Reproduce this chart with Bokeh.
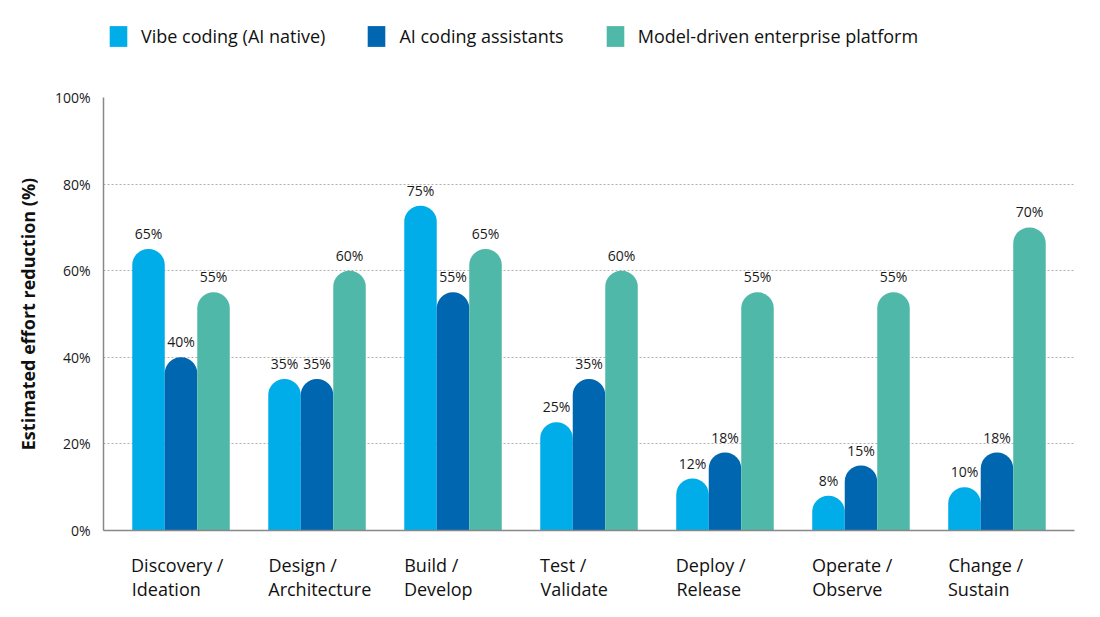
from bokeh.plotting import figure
from bokeh.layouts import column
from bokeh.models import ColumnDataSource, FixedTicker, Legend, LegendItem, Range1d, LinearAxis
from bokeh.core.properties import value
from bokeh.embed import file_html
from bokeh.resources import INLINE

categories = ["Discovery /\nIdeation", "Design /\nArchitecture", "Build /\nDevelop",
              "Test /\nValidate", "Deploy /\nRelease", "Operate /\nObserve", "Change /\nSustain"]
series_names = ["Vibe coding (AI native)", "AI coding assistants", "Model-driven enterprise platform"]
vibe = [65, 35, 75, 25, 12, 8, 10]
assistants = [40, 35, 55, 35, 18, 15, 18]
platform = [55, 60, 65, 60, 55, 55, 70]
y_ticks = [0, 20, 40, 60, 80, 100]
y_tick_labels = ["0%", "20%", "40%", "60%", "80%", "100%"]

colors = ["#00ADE8", "#0066B0", "#50B8A8"]
FONT = "Open Sans"
# approx. rendered widths (px) of the first and second line of each category label
line1_px = [90, 69, 54, 46, 69, 80, 75]
line2_px = [68, 103, 68, 68, 65, 70, 61]
px_per_unit = 136.0

p = figure(width=1090, height=540, output_backend="svg", toolbar_location=None,
           x_range=Range1d(-0.57, 6.57), y_range=Range1d(0, 100),
           min_border_left=103, min_border_right=16, min_border_top=27, min_border_bottom=80)
p.outline_line_color = None

bw = 0.239
offsets = [-bw, 0, bw]
sources = []
renderers = []
for k, vals in enumerate([vibe, assistants, platform]):
    xs = [i + offsets[k] for i in range(len(categories))]
    src = ColumnDataSource(dict(x=xs, top=vals, label=[f"{v}%" for v in vals]))
    sources.append(src)
    r = p.vbar(x="x", top="top", bottom=0, width=bw, source=src, fill_color=colors[k],
               line_color=None, border_radius=(16, 16, 0, 0))
    renderers.append(r)
    p.text(x="x", y="top", text="label", source=src, y_offset=-6, text_align="center",
           text_baseline="bottom", text_font=value(FONT), text_font_size="14px", text_color="#1a1a1a")

# grid & y axis
p.xgrid.visible = False
p.ygrid.ticker = FixedTicker(ticks=y_ticks)
p.ygrid.grid_line_color = "#b0b0b0"
p.ygrid.grid_line_dash = "2 2"
p.ygrid.grid_line_width = 1

p.yaxis.ticker = FixedTicker(ticks=y_ticks)
p.yaxis.major_label_overrides = {t: l for t, l in zip(y_ticks, y_tick_labels)}
p.yaxis.axis_label = "Estimated effort reduction (%)"
p.yaxis.axis_label_text_font = FONT
p.yaxis.axis_label_text_font_style = "bold"
p.yaxis.axis_label_text_font_size = "18px"
p.yaxis.axis_label_text_color = "#111111"
p.yaxis.axis_label_standoff = 12
p.yaxis.major_label_text_font = FONT
p.yaxis.major_label_text_font_size = "14px"
p.yaxis.major_label_text_color = "#1a1a1a"
p.yaxis.major_label_standoff = 7
p.yaxis.major_tick_line_color = None
p.yaxis.minor_tick_line_color = None
p.yaxis.axis_line_color = "#888888"
p.yaxis.axis_line_width = 1.5

# x axis: two label rows, each line starting at its group's left edge
lines1 = [c.split("\n")[0] for c in categories]
lines2 = [c.split("\n")[1] for c in categories]
group_left = [i - 1.5 * bw for i in range(len(categories))]
ticks1 = [g + (w / 2) / px_per_unit for g, w in zip(group_left, line1_px)]
ticks2 = [g + (w / 2) / px_per_unit + 1e-6 for g, w in zip(group_left, line2_px)]

xa = p.xaxis[0]
xa.ticker = FixedTicker(ticks=ticks1)
xa.major_label_overrides = {t: s for t, s in zip(ticks1, lines1)}
xa.axis_line_color = "#888888"
xa.axis_line_width = 1.5

xb = LinearAxis(ticker=FixedTicker(ticks=ticks2),
                major_label_overrides={t: s for t, s in zip(ticks2, lines2)},
                axis_line_color=None)
p.add_layout(xb, "below")

for ax, so in ((xa, 16), (xb, -9)):
    ax.major_label_text_font = FONT
    ax.major_label_text_font_size = "18px"
    ax.major_label_text_color = "#111111"
    ax.major_label_standoff = so
    ax.major_tick_line_color = None
    ax.minor_tick_line_color = None

# legend strip on top (renderers share the bar sources; zero-width bars outside the strip's range)
lg = figure(width=1090, height=70, output_backend="svg", toolbar_location=None,
            x_range=p.x_range, y_range=Range1d(-2, -1),
            min_border_left=103, min_border_right=16, min_border_top=0, min_border_bottom=0)
lg.axis.visible = False
lg.grid.visible = False
lg.outline_line_color = None
lg_renderers = [lg.vbar(x="x", top="top", bottom=0, width=0, source=sources[k],
                        fill_color=colors[k], line_color=None) for k in range(3)]
legend = Legend(items=[LegendItem(label=n, renderers=[r]) for n, r in zip(series_names, lg_renderers)],
                orientation="horizontal", location=(4, 21),
                label_text_font=FONT, label_text_font_size="18px", label_text_color="#111111",
                glyph_width=22, glyph_height=26, label_standoff=12, spacing=40,
                border_line_color=None, background_fill_alpha=0, padding=0, margin=0)
lg.add_layout(legend, "center")

layout = column(lg, p, spacing=0)
open("out.html", "w").write(file_html(layout, INLINE))
